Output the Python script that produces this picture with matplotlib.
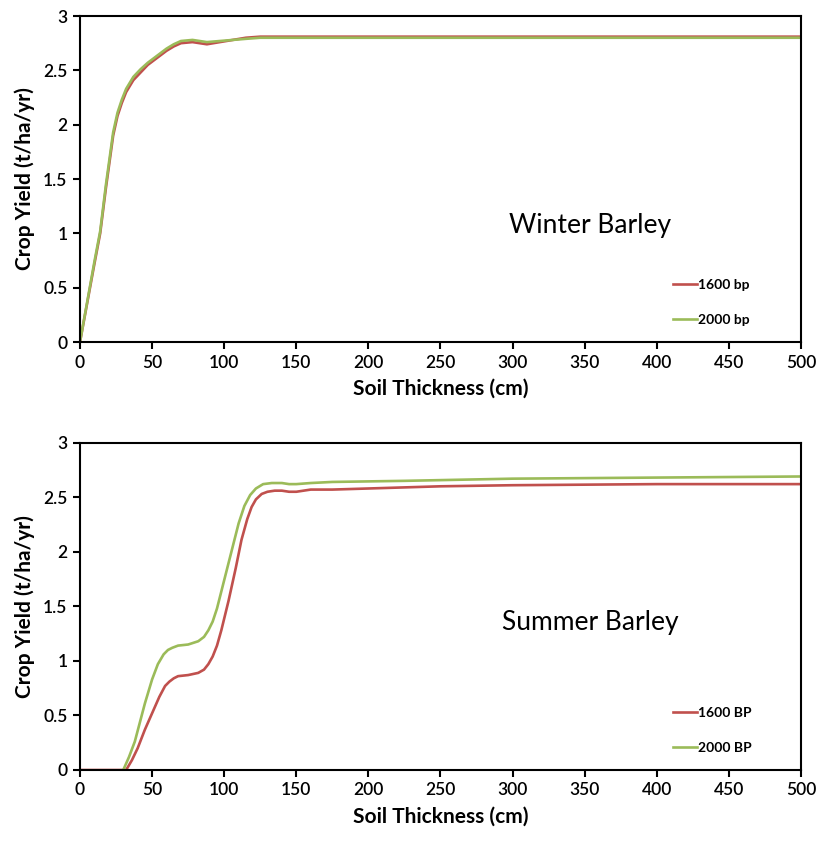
import matplotlib
matplotlib.use("Agg")
import matplotlib.pyplot as plt

plt.rcParams['font.family'] = ['Lato', 'DejaVu Sans']

# Winter barley
winter_x = [0, 5, 10, 14, 18, 23, 26, 29, 32, 37, 42, 47, 53, 60, 65, 70, 78, 88, 97, 106, 115, 125, 140, 170, 250, 350, 500]
winter_1600 = [0.0, 0.36, 0.72, 1.0, 1.42, 1.9, 2.08, 2.2, 2.3, 2.41, 2.48, 2.55, 2.61, 2.68, 2.72, 2.75, 2.76, 2.74, 2.76, 2.78, 2.8, 2.81, 2.81, 2.81, 2.81, 2.81, 2.81]
winter_2000 = [0.0, 0.37, 0.74, 1.02, 1.45, 1.93, 2.11, 2.23, 2.33, 2.44, 2.51, 2.57, 2.63, 2.7, 2.74, 2.77, 2.78, 2.76, 2.77, 2.78, 2.79, 2.8, 2.8, 2.8, 2.8, 2.8, 2.8]

# Summer barley
summer_x_1600 = [0, 10, 20, 32, 36, 40, 45, 50, 55, 59, 62, 65, 68, 75, 82, 86, 89, 92, 95, 98, 103, 108, 112, 116, 119, 122, 126, 130, 135, 140, 145, 150, 160, 175, 200, 250, 300, 400, 500]
summer_1600 = [0.0, 0.0, 0.0, 0.0, 0.09, 0.2, 0.37, 0.52, 0.67, 0.77, 0.81, 0.84, 0.86, 0.87, 0.89, 0.92, 0.97, 1.04, 1.14, 1.28, 1.55, 1.85, 2.11, 2.3, 2.41, 2.48, 2.53, 2.55, 2.56, 2.56, 2.55, 2.55, 2.57, 2.57, 2.58, 2.6, 2.61, 2.62, 2.62]
summer_x_2000 = [30, 34, 38, 45, 50, 54, 58, 61, 64, 68, 75, 82, 86, 89, 92, 95, 100, 105, 110, 114, 118, 122, 127, 133, 140, 145, 150, 160, 175, 225, 300, 400, 500]
summer_2000 = [0.0, 0.12, 0.26, 0.61, 0.83, 0.97, 1.06, 1.1, 1.12, 1.14, 1.15, 1.18, 1.22, 1.28, 1.36, 1.48, 1.74, 2.0, 2.26, 2.42, 2.52, 2.58, 2.62, 2.63, 2.63, 2.62, 2.62, 2.63, 2.64, 2.65, 2.67, 2.68, 2.69]

red = '#C0504D'
green = '#9BBB59'

fig = plt.figure(figsize=(8.18, 8.43), dpi=100)
ax1 = fig.add_axes([0.0978, 0.5943, 0.8814, 0.3867])
ax2 = fig.add_axes([0.0978, 0.0866, 0.8814, 0.3883])

panels = [
    (ax1, winter_x, winter_1600, winter_x, winter_2000, ['1600 bp', '2000 bp'], 'Winter Barley', 1.07),
    (ax2, summer_x_1600, summer_1600, summer_x_2000, summer_2000, ['1600 BP', '2000 BP'], 'Summer Barley', 1.35),
]

for ax, xa, ya, xb, yb, labels, title, ty in panels:
    ax.plot(xa, ya, color=red, lw=1.9, label=labels[0], solid_joinstyle='round')
    ax.plot(xb, yb, color=green, lw=1.9, label=labels[1], solid_joinstyle='round')
    ax.set_xlim(0, 500)
    ax.set_ylim(0, 3)
    ax.set_xticks(range(0, 501, 50))
    ax.set_yticks([0, 0.5, 1, 1.5, 2, 2.5, 3])
    ax.set_yticklabels(['0', '0.5', '1', '1.5', '2', '2.5', '3'])
    for s in ax.spines.values():
        s.set_linewidth(1.5)
        s.set_color('black')
    ax.tick_params(direction='out', length=5, width=1.5, labelsize=12.5, pad=4)
    for lab in ax.get_xticklabels() + ax.get_yticklabels():
        lab.set_fontweight('semibold')
    ax.set_xlabel('Soil Thickness (cm)', fontsize=15, fontweight='bold', labelpad=6)
    ax.set_ylabel('Crop Yield (t/ha/yr)', fontsize=15, fontweight='bold', labelpad=6)
    ax.text(354, ty, title, fontsize=19, ha='center', va='center')
    ax.legend(loc='lower left', bbox_to_anchor=(0.805, 0.01), frameon=False,
              handlelength=1.7, handletextpad=0.1, labelspacing=1.7,
              prop={'size': 10, 'weight': 'bold'})

fig.savefig('out.png', dpi=100)
